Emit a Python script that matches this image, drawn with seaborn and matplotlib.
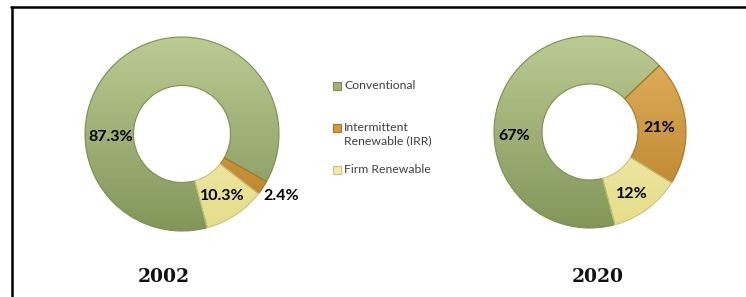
import numpy as np
import seaborn as sns
import matplotlib.pyplot as plt
from matplotlib.lines import Line2D
from matplotlib.patches import Rectangle
from matplotlib.colors import LinearSegmentedColormap

categories = ['Conventional', 'Intermittent\nRenewable (IRR)', 'Firm Renewable']
years = ['2002', '2020']
share_2002 = [87.3, 2.4, 10.3]
share_2020 = [67, 21, 12]
labels_2002 = ['87.3%', '2.4%', '10.3%']
labels_2020 = ['67%', '21%', '12%']

colors = ['#a3b574', '#d19a42', '#f1ecaa']
tops = ['#bccb93', '#e4b462', '#f8f5c8']
bottoms = ['#82965a', '#b67f25', '#e5dd88']
edges = ['#7d8f4e', '#a77522', '#c9c27a']

sns.set_theme(style="white")
plt.rcParams['font.family'] = ['Lato', 'DejaVu Sans']

W, H = 746, 297
fig = plt.figure(figsize=(W / 100, H / 100), dpi=100)

# donut centres / radius in pixels, label placement as (angle clockwise from top, radius)
donuts = [
    dict(vals=share_2002, labels=labels_2002, cx=182, cy=134, r=97,
         lab_pos=[(268, 0.74), (122, 1.21), (147, 0.76)], year_x=164),
    dict(vals=share_2020, labels=labels_2020, cx=590, cy=132, r=96,
         lab_pos=[(267, 0.79), (87, 0.72), (146, 0.78)], year_x=598),
]

grad = np.linspace(0, 1, 256).reshape(-1, 1)

for d, yr in zip(donuts, years):
    ax = fig.add_axes([(d['cx'] - d['r']) / W, 1 - (d['cy'] + d['r']) / H,
                       2 * d['r'] / W, 2 * d['r'] / H])
    wedges, _ = ax.pie(d['vals'], colors=colors, startangle=90 - 165, counterclock=False,
                       radius=1, wedgeprops=dict(width=0.5, linewidth=0.8))
    for w, ec, t, b in zip(wedges, edges, tops, bottoms):
        cmap = LinearSegmentedColormap.from_list('g', [t, b])
        im = ax.imshow(grad, extent=[-1, 1, -1, 1], cmap=cmap, origin='upper',
                       aspect='auto', zorder=1)
        im.set_clip_path(w)
        w.set_facecolor('none')
        w.set_edgecolor(ec)
        w.set_zorder(2)
    for lab, (ang, rr) in zip(d['labels'], d['lab_pos']):
        a = np.deg2rad(90 - ang)
        ax.text(rr * np.cos(a), rr * np.sin(a), lab, ha='center', va='center',
                fontsize=11.5, fontweight='bold', color='black', zorder=3)
    ax.set_xlim(-1, 1)
    ax.set_ylim(-1, 1)
    ax.set_aspect('auto')
    ax.axis('off')
    fig.text(d['year_x'] / W, 1 - 277 / H, yr, ha='center', va='center',
             fontsize=13.5, fontweight='bold', family='DejaVu Serif', color='#111111')

# legend
leg_y = [86, 128, 170]
for cat, c, ec, y in zip(categories, colors, edges, leg_y):
    fig.add_artist(Rectangle((333 / W, 1 - (y + 4) / H), 8 / W, 8 / H,
                             transform=fig.transFigure, facecolor=c, edgecolor=ec, lw=0.8))
    fig.text(344 / W, 1 - (y - 6) / H, cat, ha='left', va='top', fontsize=8.8,
             color='#404040', linespacing=1.2)

# frame lines
fig.add_artist(Line2D([11 / W, 1], [1 - 7 / H, 1 - 7 / H], transform=fig.transFigure,
                      color='black', lw=1.8))
fig.add_artist(Line2D([12 / W, 12 / W], [1 - 7 / H, 0], transform=fig.transFigure,
                      color='black', lw=1.8))

fig.savefig('out.png', dpi=100)
